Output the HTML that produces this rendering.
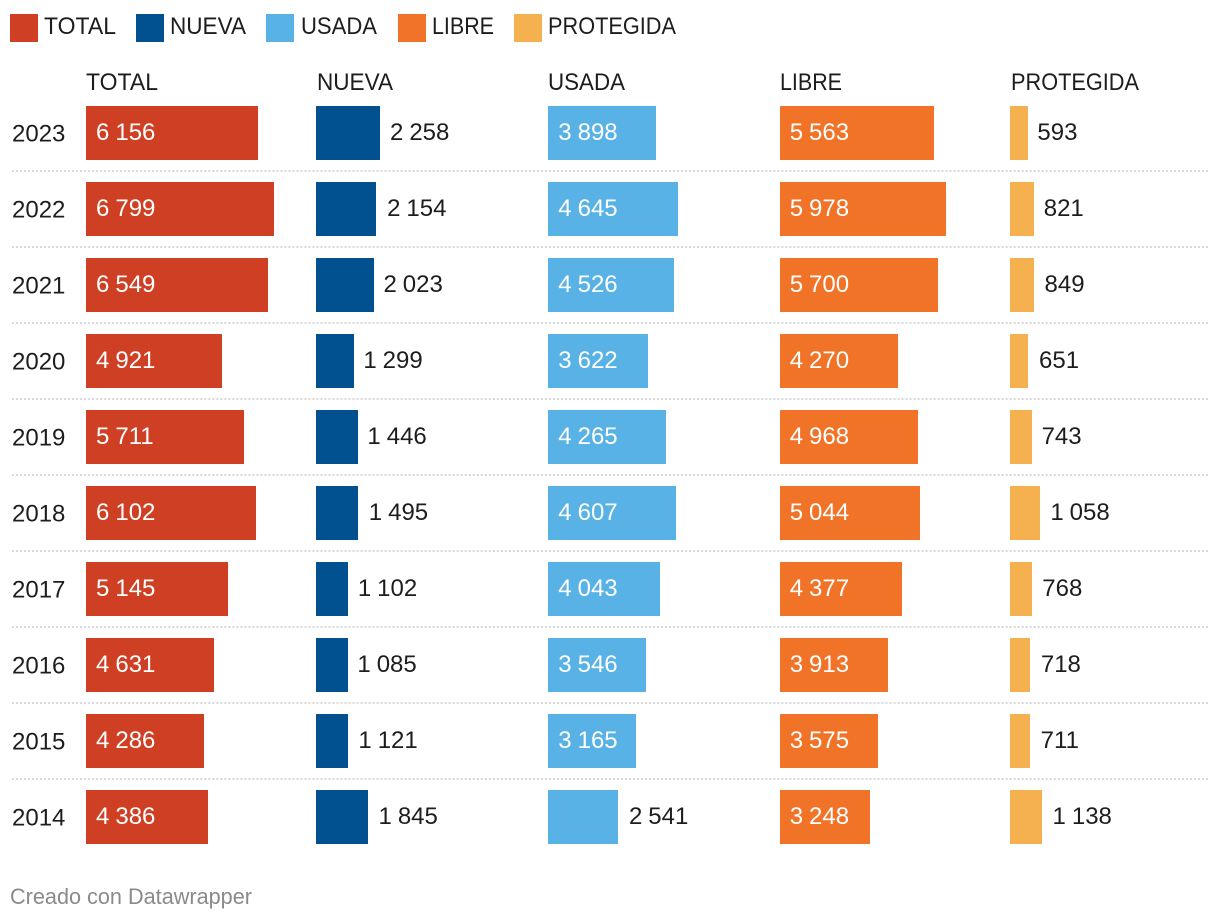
<!DOCTYPE html>
<html lang="es">
<head>
<meta charset="utf-8">
<title>Chart</title>
<style>
html,body{margin:0;padding:0;background:#fff;width:1220px;height:922px;overflow:hidden}
svg{display:block}
text{font-family:"Liberation Sans",sans-serif;font-size:24px;fill:#1d1d1d}
.val{word-spacing:-.7px}
.foot{font-size:22px;fill:#8a8a8a}
</style>
</head>
<body>
<svg id="chart" width="1220" height="922" viewBox="0 0 1220 922" xmlns="http://www.w3.org/2000/svg">
  <g>
    <rect x="10" y="14" width="28" height="28" fill="#cf3f24"/>
    <text x="44" y="34" textLength="72" lengthAdjust="spacingAndGlyphs">TOTAL</text>
    <rect x="136" y="14" width="28" height="28" fill="#01508f"/>
    <text x="170" y="34" textLength="76" lengthAdjust="spacingAndGlyphs">NUEVA</text>
    <rect x="266" y="14" width="28" height="28" fill="#58b2e6"/>
    <text x="301" y="34" textLength="76" lengthAdjust="spacingAndGlyphs">USADA</text>
    <rect x="398" y="14" width="28" height="28" fill="#f17328"/>
    <text x="432" y="34" textLength="62" lengthAdjust="spacingAndGlyphs">LIBRE</text>
    <rect x="514" y="14" width="28" height="28" fill="#f5b04f"/>
    <text x="548" y="34" textLength="128" lengthAdjust="spacingAndGlyphs">PROTEGIDA</text>
  </g>
  <g>
    <text x="86" y="90" textLength="72" lengthAdjust="spacingAndGlyphs">TOTAL</text>
    <text x="317" y="90" textLength="76" lengthAdjust="spacingAndGlyphs">NUEVA</text>
    <text x="548" y="90" textLength="77" lengthAdjust="spacingAndGlyphs">USADA</text>
    <text x="780" y="90" textLength="62" lengthAdjust="spacingAndGlyphs">LIBRE</text>
    <text x="1011" y="90" textLength="128" lengthAdjust="spacingAndGlyphs">PROTEGIDA</text>
  </g>
  <g id="rows"></g>
  <text class="foot" x="10" y="904" textLength="242" lengthAdjust="spacingAndGlyphs">Creado con Datawrapper</text>
</svg>
<script>
const years = [2023, 2022, 2021, 2020, 2019, 2018, 2017, 2016, 2015, 2014];
const total = [6156, 6799, 6549, 4921, 5711, 6102, 5145, 4631, 4286, 4386];
const nueva = [2258, 2154, 2023, 1299, 1446, 1495, 1102, 1085, 1121, 1845];
const usada = [3898, 4645, 4526, 3622, 4265, 4607, 4043, 3546, 3165, 2541];
const libre = [5563, 5978, 5700, 4270, 4968, 5044, 4377, 3913, 3575, 3248];
const protegida = [593, 821, 849, 651, 743, 1058, 768, 718, 711, 1138];

const columnNames = ['total', 'nueva', 'usada', 'libre', 'protegida'];
const columnValues = [total, nueva, usada, libre, protegida];
const columnLefts = [42.88, 158.45, 274.0, 389.7, 505.3];
const columnColors = ['#cf3f24', '#01508f', '#58b2e6', '#f17328', '#f5b04f'];

const NS = 'http://www.w3.org/2000/svg';
const root = document.getElementById('rows');
const domainMax = Math.max(...columnValues.flat());
const maxBarCssWidth = 94.57;
const deviceScale = 2;
const barHeight = 54;
const rowStep = 76;
const firstRowTop = 106;
const insideMinWidth = 80;
const labelPad = 10.3;

function snap(cssX) {
  return deviceScale * Math.round(cssX);
}
function cssWidth(v) {
  return (v / domainMax) * maxBarCssWidth;
}
function rowTop(i) {
  return firstRowTop + i * rowStep;
}
function formatValue(v) {
  return String(v).replace(/\B(?=(\d{3})+$)/g, ' ');
}

years.forEach(function (year, i) {
  const top = rowTop(i);

  const yearText = document.createElementNS(NS, 'text');
  
  
  yearText.setAttribute('x', 12);
  yearText.setAttribute('y', top + 35.5);
  yearText.textContent = year;
  root.appendChild(yearText);

  columnNames.forEach(function (name, c) {
    const v = columnValues[c][i];
    const left = columnLefts[c];
    const x = snap(left);
    const w = snap(left + cssWidth(v)) - x;

    const bar = document.createElementNS(NS, 'rect');
    
    
    bar.setAttribute('x', x);
    bar.setAttribute('y', top);
    bar.setAttribute('width', w);
    bar.setAttribute('height', barHeight);
    bar.setAttribute('fill', columnColors[c]);
    root.appendChild(bar);

    const inside = w >= insideMinWidth;
    const label = document.createElementNS(NS, 'text');
    
    
    label.setAttribute('class', 'val');
    label.setAttribute('x', deviceScale * (inside ? left : left + cssWidth(v)) + labelPad);
    label.setAttribute('y', top + 34);
    if (inside) {
      label.style.fill = '#ffffff';
    }
    label.textContent = formatValue(v);
    root.appendChild(label);
  });

  if (i < years.length - 1) {
    const sep = document.createElementNS(NS, 'line');
    
    
    sep.setAttribute('x1', 12);
    sep.setAttribute('x2', 1208);
    sep.setAttribute('y1', top + 65);
    sep.setAttribute('y2', top + 65);
    sep.setAttribute('stroke', '#d9d9d9');
    sep.setAttribute('stroke-width', 2);
    sep.setAttribute('stroke-dasharray', '2 2.0067');
    root.appendChild(sep);
  }
});
</script>
</body>
</html>
